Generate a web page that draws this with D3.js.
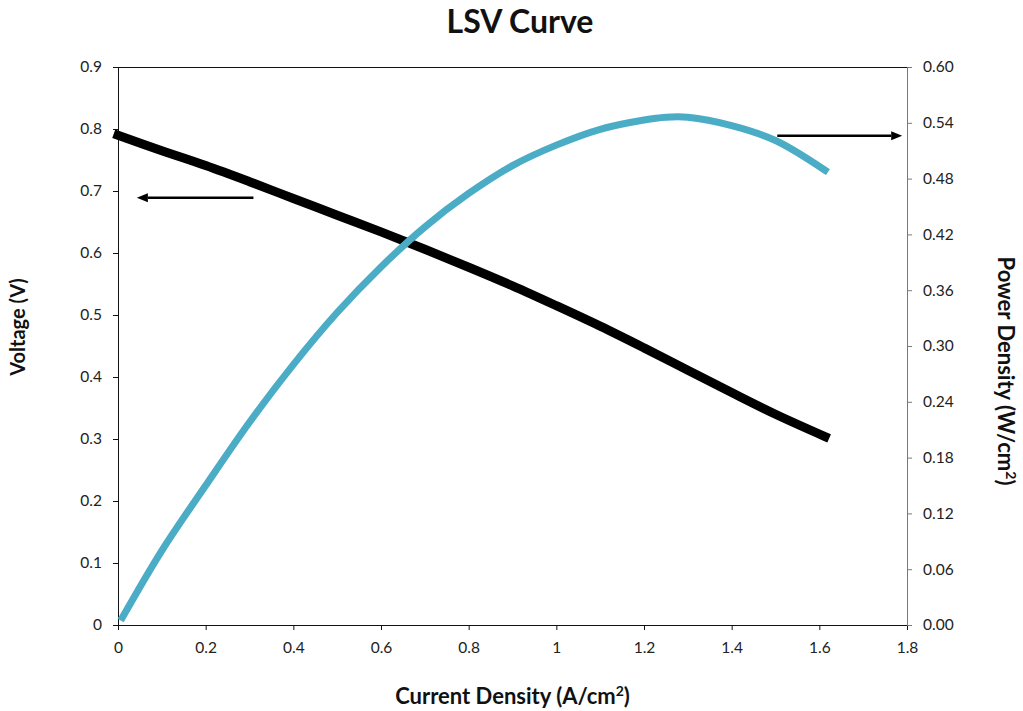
<!DOCTYPE html>
<html>
<head>
<meta charset="utf-8">
<script src="https://cdn.jsdelivr.net/npm/d3@7"></script>
<style>
    body { margin: 0; background: #fff; }
    svg text { font-family: Lato, "Open Sans", sans-serif; fill: #222; }
</style>
</head>
<body>
<div id="chart"></div>
<script>
// LSV curve data
const currentDensity = [0, 0.1, 0.2, 0.3, 0.4, 0.5, 0.6, 0.7, 0.8, 0.9, 1.0, 1.1, 1.2, 1.3, 1.4, 1.5, 1.613];
const voltage = [0.790, 0.765, 0.741, 0.715, 0.688, 0.661, 0.634, 0.606, 0.577, 0.547, 0.515, 0.482, 0.447, 0.411, 0.375, 0.340, 0.304];

const powerCurrent = [0.01, 0.1, 0.2, 0.3, 0.4, 0.5, 0.6, 0.7, 0.8, 0.9, 1.0, 1.1, 1.2, 1.25, 1.3, 1.4, 1.5, 1.613];
const powerDensity = [0.008, 0.080, 0.150, 0.218, 0.280, 0.336, 0.385, 0.428, 0.464, 0.494, 0.516, 0.533, 0.543, 0.546, 0.546, 0.537, 0.521, 0.489];

const xTicks = [0, 0.2, 0.4, 0.6, 0.8, 1.0, 1.2, 1.4, 1.6, 1.8];
const yLeftTicks = [0, 0.1, 0.2, 0.3, 0.4, 0.5, 0.6, 0.7, 0.8, 0.9];
const yRightTicks = [0, 0.06, 0.12, 0.18, 0.24, 0.30, 0.36, 0.42, 0.48, 0.54, 0.60];

// arrow annotations: [x1, x2, y] in data units (x2 is the tip)
const voltageArrow = [0.309, 0.043, 0.689];
const powerArrow = [1.504, 1.789, 0.526];

const width = 1023, height = 711;
const margin = { top: 67, right: 116, bottom: 86, left: 118 };
const innerW = width - margin.left - margin.right;
const innerH = height - margin.top - margin.bottom;

const svg = d3.select("#chart").append("svg")
    .attr("width", width)
    .attr("height", height);

const g = svg.append("g")
    .attr("transform", `translate(${margin.left},${margin.top})`);

const xScale = d3.scaleLinear().domain([0, 1.8]).range([0, innerW]);
const yLeft = d3.scaleLinear().domain([0, 0.9]).range([innerH, 0]);
const yRight = d3.scaleLinear().domain([0, 0.6]).range([innerH, 0]);

// top border of the plot area
g.append("line").attr("x1", 0).attr("x2", innerW).attr("y1", 0.5).attr("y2", 0.5)
    .attr("stroke", "#111").attr("stroke-width", 1);

const fmtShort = d => String(+d.toFixed(1));

const xAxis = g.append("g").attr("transform", `translate(0,${innerH})`)
    .call(d3.axisBottom(xScale).tickValues(xTicks).tickFormat(fmtShort).tickSize(5).tickPadding(12));
const leftAxis = g.append("g")
    .call(d3.axisLeft(yLeft).tickValues(yLeftTicks).tickFormat(fmtShort).tickSize(5).tickPadding(11));
const rightAxis = g.append("g").attr("transform", `translate(${innerW},0)`)
    .call(d3.axisRight(yRight).tickValues(yRightTicks).tickFormat(d3.format(".2f")).tickSize(5).tickPadding(11));

[xAxis, leftAxis, rightAxis].forEach(a => {
    a.selectAll("text").style("font-size", "15.5px").style("fill", "#222");
});
xAxis.select(".domain").attr("stroke", "#111");
xAxis.selectAll(".tick line").attr("stroke", "#111");
leftAxis.select(".domain").attr("stroke", "#111");
leftAxis.selectAll(".tick line").attr("stroke", "#111");
rightAxis.select(".domain").attr("stroke", "#7a7a7a");
rightAxis.selectAll(".tick line").attr("stroke", "#7a7a7a");

// curves
const vLine = d3.line()
    .x((d, i) => xScale(currentDensity[i]))
    .y(d => yLeft(d))
    .curve(d3.curveCatmullRom.alpha(0.5));
const pLine = d3.line()
    .x((d, i) => xScale(powerCurrent[i]))
    .y(d => yRight(d))
    .curve(d3.curveCatmullRom.alpha(0.5));

g.append("path").datum(voltage)
    .attr("fill", "none").attr("stroke", "#000").attr("stroke-width", 9)
    .attr("stroke-linecap", "square").attr("d", vLine);
g.append("path").datum(powerDensity)
    .attr("fill", "none").attr("stroke", "#4bacc6").attr("stroke-width", 7)
    .attr("stroke-linecap", "square").attr("d", pLine);

// arrows
function drawArrow(a, yScale) {
    const x1 = xScale(a[0]), x2 = xScale(a[1]), y = yScale(a[2]);
    const dir = Math.sign(x2 - x1);
    const headLen = 11, headHalf = 4.5;
    g.append("line")
        .attr("x1", x1).attr("x2", x2 - dir * headLen)
        .attr("y1", y).attr("y2", y)
        .attr("stroke", "#000").attr("stroke-width", 2.5);
    g.append("path")
        .attr("d", `M${x2},${y}L${x2 - dir * headLen},${y - headHalf}L${x2 - dir * headLen},${y + headHalf}Z`)
        .attr("fill", "#000");
}
drawArrow(voltageArrow, yLeft);
drawArrow(powerArrow, yRight);

// titles
svg.append("text")
    .attr("x", 520).attr("y", 33)
    .attr("text-anchor", "middle")
    .style("font-size", "32px").style("font-weight", "bold").style("fill", "#111")
    .text("LSV Curve");

const xTitle = svg.append("text")
    .attr("x", margin.left + innerW / 2).attr("y", 704)
    .attr("text-anchor", "middle")
    .style("font-size", "22px").style("font-weight", "bold").style("fill", "#111");
xTitle.append("tspan").text("Current Density (A/cm");
xTitle.append("tspan").attr("dy", -8).style("font-size", "14px").text("2");
xTitle.append("tspan").attr("dy", 8).text(")");

svg.append("text")
    .attr("transform", "translate(25,327) rotate(-90)")
    .attr("text-anchor", "middle")
    .style("font-size", "20px").style("font-weight", "bold").style("fill", "#111")
    .text("Voltage (V)");

const rTitle = svg.append("text")
    .attr("transform", "translate(998,371) rotate(90)")
    .attr("text-anchor", "middle")
    .style("font-size", "22px").style("font-weight", "bold").style("fill", "#111");
rTitle.append("tspan").text("Power Density (W/cm");
rTitle.append("tspan").attr("dy", -8).style("font-size", "14px").text("2");
rTitle.append("tspan").attr("dy", 8).text(")");
</script>
</body>
</html>
